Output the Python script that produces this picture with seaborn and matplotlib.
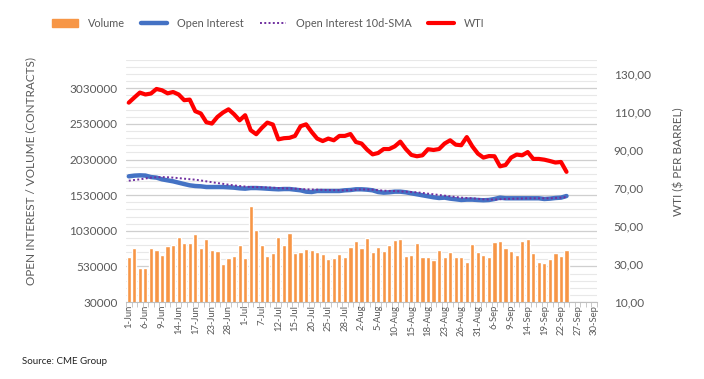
import numpy as np
import pandas as pd
import matplotlib
matplotlib.use('Agg')
import matplotlib.pyplot as plt
from matplotlib.ticker import FixedLocator
from matplotlib.lines import Line2D
from matplotlib.patches import Patch
import seaborn as sns

sns.set_style("white")
plt.rcParams['font.family'] = ['Lato', 'DejaVu Sans']

# Trading days (category axis), Jun-Sep
jun_days = [1, 2, 3, 6, 7, 8, 9, 10, 13, 14, 15, 16, 17, 21, 22, 23, 24, 27, 28, 29, 30]
jul_days = [1, 5, 6, 7, 8, 11, 12, 13, 14, 15, 18, 19, 20, 21, 22, 25, 26, 27, 28, 29]
aug_days = [1, 2, 3, 4, 5, 8, 9, 10, 11, 12, 15, 16, 17, 18, 19, 22, 23, 24, 25, 26, 29, 30, 31]
sep_days = [1, 2, 6, 7, 8, 9, 12, 13, 14, 15, 16, 19, 20, 21, 22, 23, 26, 27, 28, 29, 30]

date_labels = ([f"{d}-Jun" for d in jun_days] + [f"{d}-Jul" for d in jul_days]
               + [f"{d}-Aug" for d in aug_days] + [f"{d}-Sep" for d in sep_days])

volume = [656000, 782000, 502000, 502000, 796000, 754000, 684000, 824000, 838000, 950000,
          866000, 866000, 992000, 796000, 922000, 754000, 740000, 558000, 642000, 670000,
          838000, 642000, 1384000, 1048000, 838000, 670000, 712000, 950000, 838000, 1006000,
          712000, 726000, 768000, 754000, 726000, 698000, 628000, 642000, 698000, 656000,
          810000, 894000, 796000, 936000, 726000, 810000, 740000, 838000, 908000, 922000,
          670000, 684000, 866000, 656000, 656000, 614000, 754000, 656000, 726000, 656000,
          656000, 586000, 852000, 726000, 684000, 656000, 880000, 894000, 796000, 740000,
          684000, 894000, 922000, 712000, 586000, 572000, 628000, 712000, 670000, 754000]

open_interest = [1795000, 1805000, 1809000, 1806000, 1785000, 1777000, 1753000, 1739000, 1725000, 1706000,
                 1687000, 1669000, 1659000, 1655000, 1645000, 1645000, 1645000, 1645000, 1641000, 1636000,
                 1627000, 1622000, 1631000, 1631000, 1627000, 1622000, 1617000, 1613000, 1617000, 1617000,
                 1608000, 1599000, 1580000, 1575000, 1589000, 1589000, 1589000, 1589000, 1589000, 1599000,
                 1603000, 1613000, 1613000, 1608000, 1599000, 1575000, 1566000, 1571000, 1580000, 1580000,
                 1571000, 1557000, 1543000, 1529000, 1515000, 1501000, 1491000, 1496000, 1482000, 1473000,
                 1463000, 1468000, 1468000, 1463000, 1459000, 1463000, 1477000, 1496000, 1487000, 1487000,
                 1487000, 1487000, 1487000, 1487000, 1487000, 1477000, 1482000, 1491000, 1496000, 1519000]

oi_sma = [1734000, 1744000, 1753000, 1765000, 1777000, 1782000, 1785000, 1782000, 1777000, 1770000,
          1762000, 1755000, 1748000, 1737000, 1725000, 1713000, 1701000, 1690000, 1678000, 1668000,
          1659000, 1652000, 1645000, 1643000, 1641000, 1638000, 1636000, 1631000, 1627000, 1624000,
          1622000, 1617000, 1613000, 1610000, 1608000, 1605000, 1603000, 1601000, 1599000, 1599000,
          1601000, 1608000, 1613000, 1610000, 1608000, 1601000, 1594000, 1591000, 1589000, 1584000,
          1580000, 1575000, 1571000, 1562000, 1552000, 1543000, 1533000, 1524000, 1515000, 1505000,
          1496000, 1491000, 1487000, 1480000, 1473000, 1470000, 1468000, 1473000, 1477000, 1480000,
          1482000, 1484000, 1487000, 1487000, 1487000, 1487000, 1487000, 1491000, 1496000, 1505000]

wti = [114.9, 117.6, 120.2, 119.2, 119.7, 122.1, 121.4, 119.8, 120.5, 119.2,
       116.2, 116.5, 110.4, 109.2, 104.6, 103.9, 107.4, 109.7, 111.4, 108.8,
       105.6, 108.3, 100.4, 98.3, 101.6, 104.4, 103.4, 95.6, 96.2, 96.4,
       97.4, 102.5, 103.5, 99.5, 96.0, 94.7, 96.0, 95.1, 97.4, 97.4,
       98.4, 94.2, 93.4, 90.2, 87.7, 88.4, 90.5, 90.5, 91.9, 94.4,
       90.5, 87.4, 86.7, 87.2, 90.4, 90.0, 90.5, 93.4, 95.1, 92.8,
       92.5, 96.8, 91.9, 88.1, 86.0, 86.8, 86.7, 81.4, 82.1, 86.0,
       87.6, 87.2, 88.9, 85.3, 85.3, 84.9, 84.2, 83.4, 83.7, 78.5]

df = pd.DataFrame({'pos': range(len(volume)), 'volume': volume, 'oi': open_interest,
                   'sma': oi_sma, 'wti': wti})

c_vol = '#F79646'
c_oi = '#4472C4'
c_sma = '#7030A0'
c_wti = '#FF0000'
txt = '#595959'

fig = plt.figure(figsize=(7.04, 3.79), dpi=100)
ax = fig.add_axes([0.179, 0.203, 0.669, 0.639])

sns.barplot(data=df, x='pos', y='volume', native_scale=True, color=c_vol,
            saturation=1, width=0.75, ax=ax, zorder=2)
sns.lineplot(data=df, x='pos', y='oi', color=c_oi, linewidth=3.2, ax=ax, zorder=3)
sns.lineplot(data=df, x='pos', y='sma', color=c_sma, linewidth=1.4, linestyle=(0, (1, 1.2)),
             ax=ax, zorder=4)

ax.set_xlim(-0.5, len(date_labels) - 0.5)
ax.set_ylim(30000, 3430000)
ax.set_yticks([30000, 530000, 1030000, 1530000, 2030000, 2530000, 3030000])
ax.set_yticklabels(['30000', '530000', '1030000', '1530000', '2030000', '2530000', '3030000'])
ax.yaxis.set_minor_locator(FixedLocator(np.arange(130000, 3430001, 100000)))
ax.grid(which='major', axis='y', color='#CFCFCF', linewidth=0.9, zorder=0)
ax.grid(which='minor', axis='y', color='#E8E8E8', linewidth=0.8, zorder=0)
ax.set_axisbelow(True)

ax.set_xticks(range(0, len(date_labels), 3))
ax.set_xticklabels(date_labels[::3], rotation=90, fontsize=6.8, color=txt)
ax.xaxis.set_minor_locator(FixedLocator(np.arange(-0.5, len(date_labels), 1)))
ax.tick_params(axis='x', which='both', direction='out', length=3.5, width=0.6,
               color='#BFBFBF', bottom=True, pad=2)
ax.tick_params(axis='x', which='major', length=0)
ax.tick_params(axis='y', which='both', length=0, labelsize=8.5, labelcolor=txt, pad=6)
ax.set_xlabel('')
ax.set_ylabel('OPEN INTEREST / VOLUME (CONTRACTS)', fontsize=8.5, color=txt)
ax.yaxis.set_label_coords(-0.190, 0.54)
for s in ['left', 'right', 'top']:
    ax.spines[s].set_visible(False)
ax.spines['bottom'].set_color('#BFBFBF')
ax.spines['bottom'].set_linewidth(0.8)

ax2 = ax.twinx()
sns.lineplot(data=df, x='pos', y='wti', color=c_wti, linewidth=3.0, ax=ax2, zorder=5)
ax2.set_ylim(10, 137.4)
ax2.set_yticks([10, 30, 50, 70, 90, 110, 130])
ax2.set_yticklabels(['10,00', '30,00', '50,00', '70,00', '90,00', '110,00', '130,00'])
ax2.tick_params(axis='y', length=0, labelsize=8.5, labelcolor=txt, pad=12)
ax2.set_ylabel('WTI ($ PER BARREL)', fontsize=8.5, color=txt)
ax2.yaxis.set_label_coords(1.162, 0.58)
ax2.set_xlabel('')
for s in ['left', 'right', 'top', 'bottom']:
    ax2.spines[s].set_visible(False)

handles = [Patch(color=c_vol),
           Line2D([], [], color=c_oi, linewidth=3.2),
           Line2D([], [], color=c_sma, linewidth=1.4, linestyle=(0, (1, 1.2))),
           Line2D([], [], color=c_wti, linewidth=3.0)]
fig.legend(handles, ['Volume', 'Open Interest', 'Open Interest 10d-SMA', 'WTI'],
           loc='center', bbox_to_anchor=(0.381, 0.939), ncol=4, frameon=False,
           fontsize=7.8, labelcolor=txt, handlelength=2.4, handleheight=0.7,
           columnspacing=1.5, handletextpad=0.9)

fig.text(0.031, 0.045, 'Source: CME Group', fontsize=7, color='#222222', va='center')

fig.savefig('out.png', dpi=100)
